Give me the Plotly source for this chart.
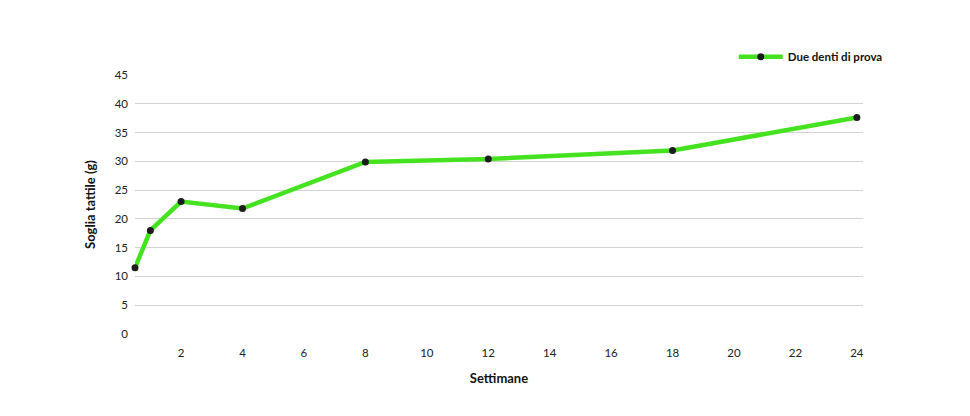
import plotly.graph_objects as go

# Data
weeks = [0.5, 1, 2, 4, 8, 12, 18, 24]
threshold = [11.5, 18.0, 23.0, 21.8, 29.9, 30.4, 31.9, 37.6]
series_name = 'Due denti di prova'

GREEN = '#45e31f'
DOT = '#1c1c1c'
GRID = '#d3d3d3'
FONT_FAMILY = 'Lato, Noto Sans, sans-serif'

fig = go.Figure()
fig.add_trace(go.Scatter(
    x=weeks, y=threshold, name='<b>' + series_name + '</b>', mode='lines+markers',
    line=dict(color=GREEN, width=4.5),
    marker=dict(color=DOT, size=7),
    cliponaxis=False,
))

# the page adds an 8px body margin, so the margins are shifted to compensate
fig.update_layout(
    width=970, height=416,
    margin=dict(l=127, r=115, t=67, b=90),
    paper_bgcolor='white', plot_bgcolor='white',
    font=dict(family=FONT_FAMILY, size=11.5, color='#222222'),
    showlegend=True,
    legend=dict(orientation='h', x=1.034, xanchor='right', y=1.07, yanchor='middle',
                itemwidth=44, font=dict(size=11.5, color='#111111'), bgcolor='rgba(0,0,0,0)'),
)
fig.update_xaxes(
    range=[0.5, 24.2], tickmode='linear', tick0=0, dtick=2,
    showgrid=False, zeroline=False, showline=False, ticks='',
    ticklabelstandoff=10,
    title=dict(text='<b>Settimane</b>', font=dict(size=13, color='#111111'), standoff=16),
    tickfont=dict(size=11.5),
)
fig.update_yaxes(
    range=[0, 45], tickmode='linear', tick0=0, dtick=5,
    showgrid=True, gridcolor=GRID, gridwidth=1, zeroline=False, showline=False, ticks='',
    ticklabelstandoff=6,
    title=dict(text='<b>Soglia tattile (g)</b>', font=dict(size=13, color='#111111'), standoff=16),
    tickfont=dict(size=11.5),
)

fig.write_html('out.html')
